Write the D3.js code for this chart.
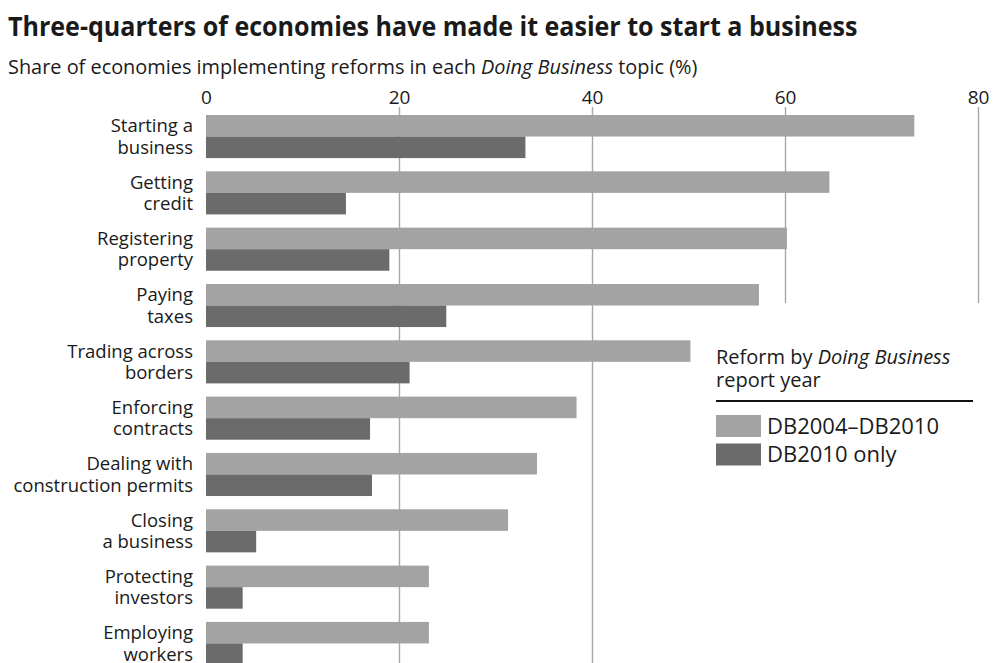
<!DOCTYPE html>
<html>
<head>
<meta charset="utf-8">
<script src="https://cdn.jsdelivr.net/npm/d3@7"></script>
<style>
  body { margin: 0; background: #fff; }
  svg { display: block; font-family: "Open Sans", sans-serif; }
</style>
</head>
<body>
<svg id="chart" width="995" height="663"></svg>
<script>
// topic labels, each split in two lines as in the original
const topics = [
  ['Starting a', 'business'],
  ['Getting', 'credit'],
  ['Registering', 'property'],
  ['Paying', 'taxes'],
  ['Trading across', 'borders'],
  ['Enforcing', 'contracts'],
  ['Dealing with', 'construction permits'],
  ['Closing', 'a business'],
  ['Protecting', 'investors'],
  ['Employing', 'workers']
];
const series = ['DB2004\u2013DB2010', 'DB2010 only'];
const db2004to2010 = [73.4, 64.6, 60.2, 57.3, 50.2, 38.4, 34.3, 31.3, 23.1, 23.1];
const db2010only = [33.1, 14.5, 19.0, 24.9, 21.1, 17.0, 17.2, 5.2, 3.8, 3.8];
const xTicks = [0, 20, 40, 60, 80];
const colors = ['#a3a3a3', '#6b6b6b'];

const svg = d3.select('#chart');
const W = 995, H = 663;

const data = topics.map((t, i) => ({
  key: t.join(' '),
  lines: t,
  values: [db2004to2010[i], db2010only[i]]
}));

const x = d3.scaleLinear().domain([0, 80]).range([206, 978]);
const y = d3.scaleBand()
  .domain(data.map(d => d.key))
  .range([115, 665])
  .paddingInner(0.235)
  .paddingOuter(0);
const ySub = d3.scaleBand().domain(series).range([0, y.bandwidth()]);

// shrink a text horizontally so it fills a given width
function fitWidth(sel, x0, y0, w) {
  const bw = sel.node().getComputedTextLength();
  sel.attr('transform', `translate(${x0},${y0}) scale(${w / bw},1)`);
}

// title + subtitle
const title = svg.append('text')
  .attr('font-weight', 700)
  .attr('font-size', 26)
  .attr('fill', '#1a1a1a')
  .text('Three-quarters of economies have made it easier to start a business');
fitWidth(title, 8, 36, 850);

const sub = svg.append('text')
  .attr('font-size', 20)
  .attr('fill', '#1a1a1a');
sub.append('tspan').text('Share of economies implementing reforms in each ');
sub.append('tspan').attr('font-style', 'italic').text('Doing Business');
sub.append('tspan').text(' topic (%)');
fitWidth(sub, 8, 74, 690);

// legend box left edge, gridlines stop above it
const legendX = 716, legendTop = 303;

// axis + gridlines
const axis = svg.append('g')
  .attr('transform', 'translate(0,107)')
  .call(d3.axisTop(x).tickValues(xTicks).tickSizeInner(-(H - 107)).tickSizeOuter(0).tickPadding(3))
  .call(g => g.select('.domain').remove());
axis.selectAll('.tick text')
  .attr('font-size', 19)
  .attr('font-family', '"Open Sans", sans-serif')
  .attr('fill', '#1a1a1a');
axis.selectAll('.tick line')
  .attr('stroke', '#a8a8a8')
  .attr('stroke-width', 1.4)
  .attr('y2', d => x(d) > legendX - 20 ? legendTop - 107 : H - 107)
  .attr('display', d => d === 0 ? 'none' : null);

// bars
const groups = svg.append('g')
  .selectAll('g')
  .data(data)
  .join('g')
  .attr('transform', d => `translate(0,${y(d.key)})`);

groups.selectAll('rect')
  .data(d => d.values.map((v, i) => ({ s: series[i], v, i })))
  .join('rect')
  .attr('x', x(0))
  .attr('y', d => ySub(d.s))
  .attr('width', d => x(d.v) - x(0))
  .attr('height', ySub.bandwidth())
  .attr('fill', d => colors[d.i]);

// topic labels
groups.selectAll('text')
  .data(d => d.lines.map((l, i) => ({ l, s: series[i] })))
  .join('text')
  .attr('x', x(0) - 13)
  .attr('y', d => ySub(d.s) + ySub.bandwidth() / 2 + 6.5)
  .attr('text-anchor', 'end')
  .attr('font-size', 18.5)
  .attr('fill', '#1a1a1a')
  .text(d => d.l);

// legend
const legend = svg.append('g');
const lt = legend.append('text')
  .attr('x', legendX).attr('y', 364)
  .attr('font-size', 20).attr('fill', '#1a1a1a');
lt.append('tspan').text('Reform by ');
lt.append('tspan').attr('font-style', 'italic').text('Doing Business');
legend.append('text')
  .attr('x', legendX).attr('y', 387)
  .attr('font-size', 20).attr('fill', '#1a1a1a')
  .text('report year');
legend.append('line')
  .attr('x1', legendX).attr('x2', 973)
  .attr('y1', 401).attr('y2', 401)
  .attr('stroke', '#111').attr('stroke-width', 2);

const items = legend.selectAll('g.item')
  .data(series)
  .join('g')
  .attr('class', 'item')
  .attr('transform', (d, i) => `translate(${legendX},${415 + i * 28.5})`);
items.append('rect')
  .attr('width', 45).attr('height', 22)
  .attr('fill', (d, i) => colors[i]);
items.append('text')
  .attr('x', 51).attr('y', 18.5)
  .attr('font-size', 22).attr('fill', '#1a1a1a')
  .text(d => d);
</script>
</body>
</html>
